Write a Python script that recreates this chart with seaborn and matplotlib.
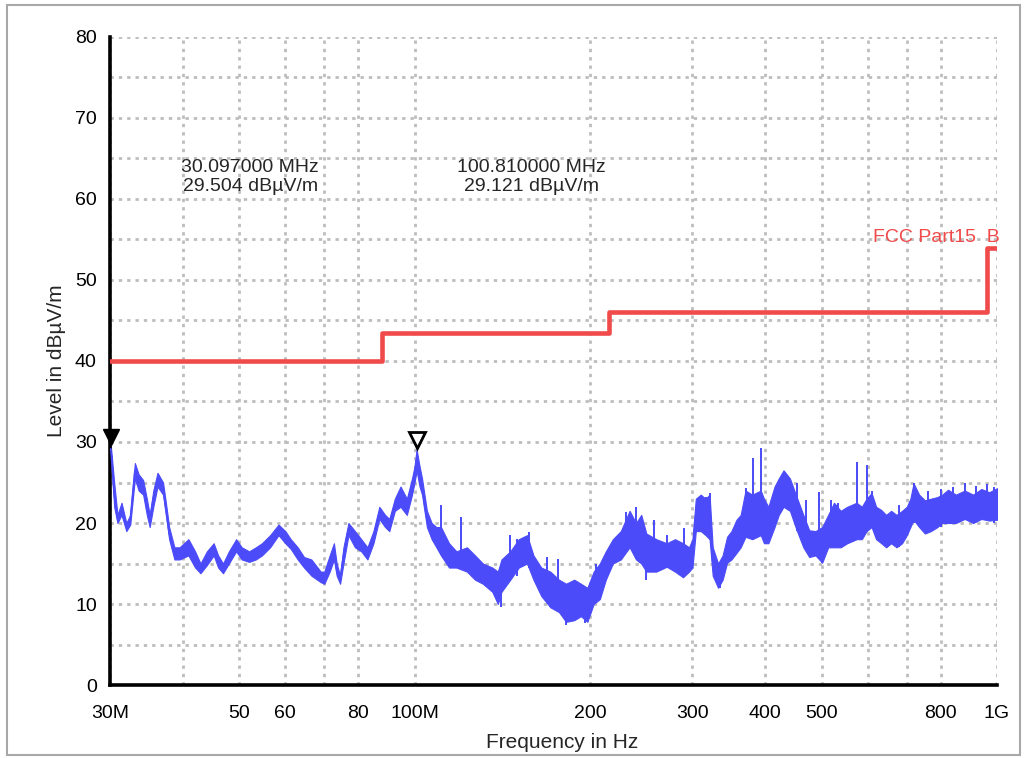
import numpy as np
import pandas as pd
import matplotlib
matplotlib.use("Agg")
import matplotlib.pyplot as plt
from matplotlib.patches import Rectangle
from matplotlib.ticker import NullLocator
import seaborn as sns

# measured trace: upper / lower edge of the noise band (MHz, dBuV/m)
freq_mhz = [30.0, 30.1, 30.5, 30.9, 31.4, 32.0, 32.5, 33.1, 33.6, 34.2,
            34.7, 35.1, 35.6, 36.2, 37.0, 37.5, 37.9, 38.7, 39.5, 40.9,
            42.0, 42.9, 44.0, 45.2, 46.0, 46.9, 48.0, 49.4, 50.5, 52.0,
            53.4, 54.7, 56.5, 58.4, 60.0, 61.3, 63.0, 64.6, 66.5, 69.0,
            70.0, 71.5, 72.7, 73.5, 74.5, 75.5, 77.0, 79.0, 81.0, 83.0,
            85.0, 87.0, 89.0, 90.5, 92.5, 94.6, 97.0, 99.0, 100.0, 100.81,
            102.0, 103.0, 105.0, 107.0, 109.0, 111.0, 114.6, 118.0, 123.0, 127.0,
            131.0, 136.0, 139.0, 141.0, 146.0, 151.0, 156.0, 160.0, 165.0, 171.0,
            177.0, 182.0, 188.0, 193.0, 198.0, 203.0, 208.0, 213.0, 219.0, 226.0,
            234.0, 240.0, 245.0, 250.0, 260.0, 271.0, 280.0, 289.0, 296.0, 300.0,
            304.0, 310.0, 316.0, 321.0, 325.0, 332.0, 338.0, 344.0, 350.0, 357.0,
            363.0, 370.0, 380.0, 393.0, 398.0, 405.0, 415.0, 422.0, 430.0, 441.0,
            453.0, 465.0, 476.0, 488.0, 501.0, 513.0, 525.0, 539.0, 553.0, 574.0,
            586.0, 597.0, 609.0, 620.0, 633.0, 645.0, 658.0, 672.0, 687.0, 700.0,
            710.0, 719.0, 735.0, 752.0, 770.0, 790.0, 805.0, 824.0, 850.0, 880.0,
            910.0, 940.0, 970.0, 1000.0]
level_hi = [29.5, 29.5, 25.0, 21.0, 22.5, 20.0, 21.0, 27.4, 26.0, 25.3,
            23.0, 21.0, 24.0, 26.2, 25.0, 22.0, 19.5, 17.0, 17.0, 18.0,
            16.5, 15.0, 16.5, 17.5, 16.0, 15.0, 16.5, 18.0, 17.0, 16.5,
            17.0, 17.5, 18.5, 19.8, 19.0, 18.0, 17.0, 15.8, 15.5, 14.0,
            14.0, 16.0, 17.5, 15.0, 13.5, 17.0, 20.0, 19.0, 18.0, 17.0,
            19.0, 22.0, 21.0, 20.5, 23.0, 24.5, 23.0, 25.5, 27.0, 29.1,
            27.0, 25.5, 21.5, 20.0, 19.5, 19.5, 17.5, 16.5, 17.0, 16.0,
            15.0, 14.5, 14.0, 15.5, 16.5, 18.0, 18.5, 16.0, 14.5, 14.0,
            13.0, 12.5, 13.0, 12.5, 12.0, 14.0, 15.0, 16.5, 18.0, 19.0,
            21.5, 20.0, 21.0, 18.7, 18.0, 17.5, 18.0, 17.5, 17.0, 18.0,
            23.0, 23.5, 23.0, 23.5, 17.0, 15.0, 16.0, 18.3, 19.0, 20.4,
            21.0, 24.0, 23.5, 24.0, 23.0, 22.0, 24.5, 25.5, 26.5, 25.5,
            23.2, 21.0, 19.1, 19.0, 19.5, 21.0, 22.5, 21.5, 22.0, 22.5,
            22.0, 23.0, 23.7, 22.0, 21.6, 21.0, 21.5, 21.0, 21.5, 22.0,
            23.0, 24.9, 23.5, 22.8, 23.0, 23.2, 23.5, 24.1, 23.5, 24.0,
            23.5, 24.2, 23.8, 24.3]
level_lo = [28.5, 28.8, 22.0, 20.0, 21.0, 19.0, 19.8, 25.5, 24.0, 23.5,
            21.0, 19.5, 22.0, 24.5, 23.5, 20.5, 18.0, 15.5, 15.5, 16.0,
            14.5, 13.8, 14.8, 16.0, 14.5, 13.8, 15.0, 16.5, 15.5, 15.2,
            15.5, 16.0, 17.0, 18.5, 17.5, 16.8, 15.5, 14.5, 13.5, 12.7,
            12.5, 14.0, 15.5, 13.5, 12.5, 15.0, 18.5, 17.0, 16.5, 15.5,
            17.5, 20.5, 19.5, 19.0, 21.5, 22.0, 21.0, 23.5, 25.0, 26.5,
            24.5, 23.5, 19.5, 18.0, 17.0, 16.0, 14.5, 14.5, 14.0, 13.0,
            12.5, 11.5, 10.0, 11.5, 13.0, 14.5, 15.0, 13.0, 11.0, 9.6,
            9.0, 7.8, 8.0, 8.5, 7.8, 10.0, 10.6, 13.0, 15.0, 15.5,
            17.0, 15.5, 15.0, 14.0, 14.0, 14.6, 14.0, 13.3, 14.0, 14.5,
            19.0, 19.0, 18.5, 18.0, 13.5, 12.0, 13.0, 15.1, 15.5, 16.3,
            17.0, 18.3, 18.0, 18.5, 17.5, 17.5, 19.5, 21.0, 22.0, 21.5,
            19.1, 17.0, 15.8, 16.0, 15.1, 17.0, 17.0, 17.0, 17.5, 18.0,
            18.0, 19.0, 19.5, 18.0, 17.5, 17.0, 17.5, 17.0, 17.5, 18.5,
            19.5, 20.4, 19.5, 18.7, 19.0, 19.5, 20.0, 20.0, 20.0, 20.5,
            20.0, 20.5, 20.3, 20.4]

# single narrow spikes sticking out of the band (up and down)
spike_freq = [111, 120, 141, 146, 150, 157, 169, 176, 182, 196,
              205, 231, 240, 250, 258, 271, 290, 316, 321, 334,
              370, 381, 393, 453, 470, 494, 501, 518, 533, 574,
              597, 611, 680, 719, 760, 800, 840, 880, 920, 960,
              990]
spike_top = [22.2, 20.7, 13.0, 18.5, 18.0, 18.9, 15.8, 15.5, 12.0, 12.0,
             15.0, 21.4, 22.0, 17.0, 20.4, 18.5, 19.4, 23.2, 23.7, 15.0,
             24.3, 28.0, 29.2, 25.0, 22.8, 23.8, 18.0, 22.8, 22.5, 27.5,
             27.2, 24.0, 22.2, 25.0, 24.0, 24.2, 24.5, 25.0, 24.6, 24.8,
             24.5]
spike_base = [16.0, 14.5, 9.6, 13.0, 13.5, 14.5, 10.5, 10.0, 7.4, 7.6,
              10.5, 17.0, 15.5, 13.0, 15.0, 14.5, 13.5, 19.0, 18.0, 12.0,
              18.5, 18.0, 18.5, 19.0, 17.0, 16.0, 15.1, 17.0, 17.5, 18.0,
              19.0, 19.5, 17.0, 20.0, 19.0, 19.5, 20.0, 20.5, 20.2, 20.5,
              20.0]

# FCC Part15 B limit
limit_freq = [30, 88, 216, 960, 1000]
limit_level = [40, 43.5, 46, 54, 54]

# markers
marker_freq = [30.097, 100.81]
marker_level = [29.504, 29.121]

xtick_vals = [30, 40, 50, 60, 70, 80, 100, 200, 300, 400, 500, 600, 700, 800, 1000]
xtick_labels = ["30M", "", "50", "60", "", "80", "100M", "200", "300", "400", "500", "", "", "800", "1G"]

BLUE = "#4b4bfa"
RED = "#f04a4a"

sns.set_style("white")
plt.rcParams["font.family"] = ["Liberation Sans", "DejaVu Sans"]

fig = plt.figure(figsize=(10.27, 7.58), dpi=100)
ax = fig.add_axes([0.1071, 0.0963, 0.8637, 0.8549])
ax.set_xscale("log")

trace = pd.DataFrame({"freq": freq_mhz * 2, "level": level_hi + level_lo})
sns.lineplot(data=trace, x="freq", y="level", estimator="mean", errorbar=("pi", 100),
             color=BLUE, lw=1.2, err_kws={"alpha": 1, "linewidth": 0.8, "edgecolor": BLUE},
             ax=ax, zorder=3)
ax.vlines(spike_freq, spike_base, spike_top, color=BLUE, lw=1.4, zorder=3)

sns.lineplot(x=limit_freq, y=limit_level, drawstyle="steps-post", color=RED, lw=3.3, ax=ax, zorder=4)

ax.plot(marker_freq[0], marker_level[0] + 1.1, marker="v", ms=12, color="black",
        ls="none", clip_on=False, zorder=6)
ax.plot(marker_freq[1], marker_level[1] + 1.1, marker="v", ms=12, mfc="white", mec="black",
        mew=2, ls="none", clip_on=False, zorder=6)

ax.text(52.2, 62.7, f"{marker_freq[0]:.6f} MHz\n{marker_level[0]:.3f} dBµV/m",
        ha="center", va="center", fontsize=14, linespacing=1.15)
ax.text(158.7, 62.7, f"{marker_freq[1]:.6f} MHz\n{marker_level[1]:.3f} dBµV/m",
        ha="center", va="center", fontsize=14, linespacing=1.15)
ax.text(1010, 54.2, "FCC Part15  B", color=RED, ha="right", va="bottom", fontsize=14)

ax.set_xlim(30, 1000)
ax.set_ylim(0, 80)
ax.set_xticks(xtick_vals)
ax.set_xticklabels(xtick_labels)
ax.xaxis.set_minor_locator(NullLocator())
ax.set_yticks(range(0, 81, 10))
ax.set_yticks(range(5, 80, 10), minor=True)
ax.tick_params(which="both", direction="inout", length=13, width=2.2, colors="black", labelsize=14)
ax.tick_params(axis="x", pad=8)
ax.tick_params(axis="y", pad=3)

ax.grid(True, which="both", color="#bdbdbd", linestyle=(0, (1.2, 1.8)), linewidth=2.0)
ax.set_axisbelow(True)
for side in ["top", "right"]:
    ax.spines[side].set_visible(False)
for side in ["left", "bottom"]:
    ax.spines[side].set_linewidth(2.6)
    ax.spines[side].set_color("black")

ax.set_xlabel("Frequency in Hz", fontsize=15)
ax.set_ylabel("Level in dBµV/m", fontsize=15)
ax.xaxis.set_label_coords(0.51, -0.074)
ax.yaxis.set_label_coords(-0.05, 0.5)

fig.patches.append(Rectangle((0.007, 0.004), 0.986, 0.989, transform=fig.transFigure,
                             fill=False, ec="#a8a8a8", lw=1.5))

fig.savefig("out.png", dpi=100)
